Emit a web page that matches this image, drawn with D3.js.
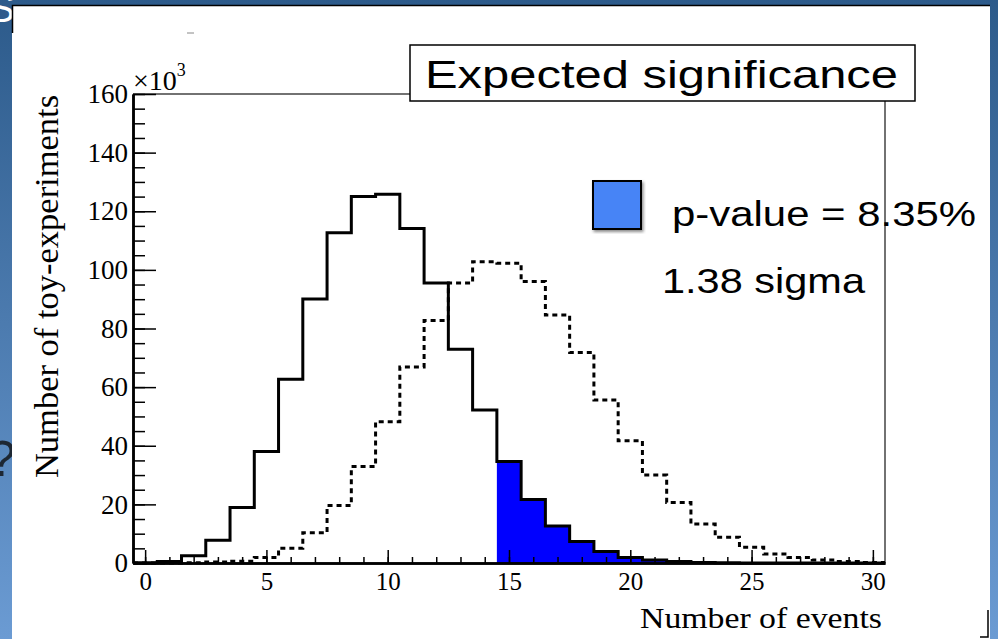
<!DOCTYPE html>
<html>
<head>
<meta charset="utf-8">
<script src="https://cdn.jsdelivr.net/npm/d3@7.9.0/dist/d3.min.js"></script>
<style>
  body { margin: 0; overflow: hidden; background: #fff; }
  svg { display: block; }
  .serif { font-family: "Liberation Serif", "Times New Roman", serif; }
  .sans { font-family: "Liberation Sans", Arial, sans-serif; }
</style>
</head>
<body>
<svg id="chart" width="998" height="639"></svg>
<script>
// bin centres (number of events) and counts in units of 10^3 toy-experiments
const bins = [0, 1, 2, 3, 4, 5, 6, 7, 8, 9, 10, 11, 12, 13, 14, 15, 16, 17, 18, 19, 20,
              21, 22, 23, 24, 25, 26, 27, 28, 29, 30];
const bkgOnly = [0.05, 0.5, 2.5, 7.8, 18.9, 38.0, 62.7, 90.1, 112.7, 125.0, 125.8, 114.1, 95.5,
                 72.9, 52.2, 34.6, 21.7, 12.6, 7.3, 3.9, 1.9, 1.0, 0.5, 0.2, 0.1, 0, 0, 0, 0, 0, 0];
const sigPlusBkg = [0, 0, 0.1, 0.3, 0.6, 1.9, 5.0, 10.3, 19.6, 32.9, 48.2, 66.9, 82.7, 95.5,
                    102.8, 102.3, 96.0, 84.6, 71.8, 55.6, 41.7, 30.0, 20.6, 13.3, 8.8, 5.4,
                    3.1, 1.9, 1.0, 0.5, 0.2];
const observedCut = 15;   // bins >= this are shaded (p-value)
const xMajor = [0, 5, 10, 15, 20, 25, 30];
const yMajor = [0, 20, 40, 60, 80, 100, 120, 140, 160];
const titleText = "Expected significance";
const pText = "p-value = 8.35%";
const sigmaText = "1.38 sigma";
const xTitle = "Number of events";
const yTitle = "Number of toy-experiments";

const svg = d3.select("#chart");

// slide background
const defs = svg.append("defs");
const grad = defs.append("linearGradient").attr("id", "slide")
  .attr("x1", 0).attr("y1", 0).attr("x2", 0).attr("y2", 1);
grad.append("stop").attr("offset", "0%").attr("stop-color", "#2c5a8a");
grad.append("stop").attr("offset", "100%").attr("stop-color", "#6b9bd3");
svg.append("rect").attr("width", 998).attr("height", 639).attr("fill", "url(#slide)");

// bits of slide text peeking out at the left edge
svg.append("text").attr("class", "sans").attr("x", -12).attr("y", 22)
  .style("font-size", "40px").attr("fill", "#fff").text("S");
svg.append("text").attr("class", "sans").attr("x", -12).attr("y", 476)
  .style("font-size", "50px").attr("fill", "#1d2733").text("?");

// pasted picture
svg.append("rect").attr("x", 12).attr("y", 5).attr("width", 978).attr("height", 634)
  .attr("fill", "#fff");
svg.append("path").attr("d", "M12.5,33 V5.5 H990").attr("fill", "none")
  .attr("stroke", "#000").attr("stroke-width", 1.5);
svg.append("path").attr("d", "M988,610 V637 H980").attr("fill", "none")
  .attr("stroke", "#000").attr("stroke-width", 1.5);
svg.append("line").attr("x1", 187).attr("x2", 194).attr("y1", 33).attr("y2", 33)
  .attr("stroke", "#888").attr("stroke-width", 1);

const margin = { left: 133, right: 885, top: 94, bottom: 563 };
const x = d3.scaleLinear().domain([-0.5, 30.5]).range([margin.left, margin.right]);
const y = d3.scaleLinear().domain([0, 160]).range([margin.bottom, margin.top]);

// frame top / right (thin)
svg.append("path")
  .attr("d", `M${margin.left},${margin.top} H${margin.right} V${margin.bottom}`)
  .attr("fill", "none").attr("stroke", "#444").attr("stroke-width", 1.5);

// histogram step builder
const stepLine = d3.line().x(d => x(d[0])).y(d => y(d[1])).curve(d3.curveStepAfter);
function stepPoints(vals) {
  const pts = bins.map((b, i) => [b - 0.5, vals[i]]);
  pts.push([bins[bins.length - 1] + 0.5, vals[vals.length - 1]]);
  return pts;
}

// shaded tail
const tail = bins.map((b, i) => [b - 0.5, b >= observedCut ? bkgOnly[i] : 0]);
tail.push([30.5, 0]);
const tailArea = d3.area().x(d => x(d[0])).y0(y(0)).y1(d => y(d[1])).curve(d3.curveStepAfter);
svg.append("path").attr("d", tailArea(tail)).attr("fill", "#0000ff");

svg.append("path").attr("d", stepLine(stepPoints(sigPlusBkg)))
  .attr("fill", "none").attr("stroke", "#000").attr("stroke-width", 3)
  .attr("stroke-dasharray", "5,4");

svg.append("path").attr("d", stepLine(stepPoints(bkgOnly)))
  .attr("fill", "none").attr("stroke", "#000").attr("stroke-width", 3);

// axes
const gy = svg.append("g").attr("transform", `translate(${margin.left},0)`);
gy.call(d3.axisLeft(y).tickValues(d3.range(0, 161, 5)).tickSize(-12).tickFormat("").tickSizeOuter(0));
gy.call(g => g.append("g").call(d3.axisLeft(y).tickValues(yMajor).tickSize(-23).tickPadding(5).tickSizeOuter(0)));
gy.selectAll("line").attr("stroke", "#000").attr("stroke-width", 1.5);
gy.selectAll(".domain").attr("stroke", "#000").attr("stroke-width", 2.5);
gy.selectAll("text").attr("class", "serif").style("font-size", "27px").attr("fill", "#000");

const gx = svg.append("g").attr("transform", `translate(0,${margin.bottom})`);
gx.call(d3.axisBottom(x).tickValues(d3.range(0, 31, 1)).tickSize(-6).tickFormat("").tickSizeOuter(0));
gx.call(g => g.append("g").call(d3.axisBottom(x).tickValues(xMajor).tickSize(-13).tickPadding(9).tickSizeOuter(0)));
gx.selectAll("line").attr("stroke", "#000").attr("stroke-width", 1.5);
gx.selectAll(".domain").attr("stroke", "#000").attr("stroke-width", 2.5);
gx.selectAll("text").attr("class", "serif").style("font-size", "25px").attr("fill", "#000");

// x10^3 multiplier
const mult = svg.append("text").attr("class", "serif").attr("x", margin.left).attr("y", 90)
  .style("font-size", "28px");
mult.append("tspan").text("\u00d710");
mult.append("tspan").style("font-size", "18px").attr("dy", -14).text("3");

// axis titles
svg.append("text").attr("class", "serif").style("font-size", "34.5px")
  .attr("transform", `translate(58,${(95 + 478) / 2}) rotate(-90)`)
  .attr("text-anchor", "middle").text(yTitle);
svg.append("text").attr("class", "serif").style("font-size", "29px")
  .attr("x", 882).attr("y", 628).attr("text-anchor", "end")
  .attr("textLength", 242).attr("lengthAdjust", "spacingAndGlyphs").text(xTitle);

// title box
svg.append("rect").attr("x", 410).attr("y", 45).attr("width", 505).attr("height", 56)
  .attr("fill", "#fff").attr("stroke", "#000").attr("stroke-width", 1.5);
svg.append("text").attr("class", "sans").style("font-size", "39px")
  .attr("x", 425).attr("y", 88).attr("textLength", 473).attr("lengthAdjust", "spacingAndGlyphs")
  .text(titleText);

// legend
defs.append("filter").attr("id", "shadow")
  .append("feDropShadow").attr("dx", 1.5).attr("dy", 2).attr("stdDeviation", 1.5)
  .attr("flood-color", "#000").attr("flood-opacity", 0.45);
svg.append("rect").attr("x", 593).attr("y", 181).attr("width", 48).attr("height", 48)
  .attr("fill", "#4684f6").attr("stroke", "#000").attr("stroke-width", 2)
  .attr("filter", "url(#shadow)");
svg.append("text").attr("class", "sans").style("font-size", "35px")
  .attr("x", 672).attr("y", 226).attr("textLength", 304).attr("lengthAdjust", "spacingAndGlyphs")
  .text(pText);
svg.append("text").attr("class", "sans").style("font-size", "35px")
  .attr("x", 662).attr("y", 293).attr("textLength", 203).attr("lengthAdjust", "spacingAndGlyphs")
  .text(sigmaText);
</script>
</body>
</html>
